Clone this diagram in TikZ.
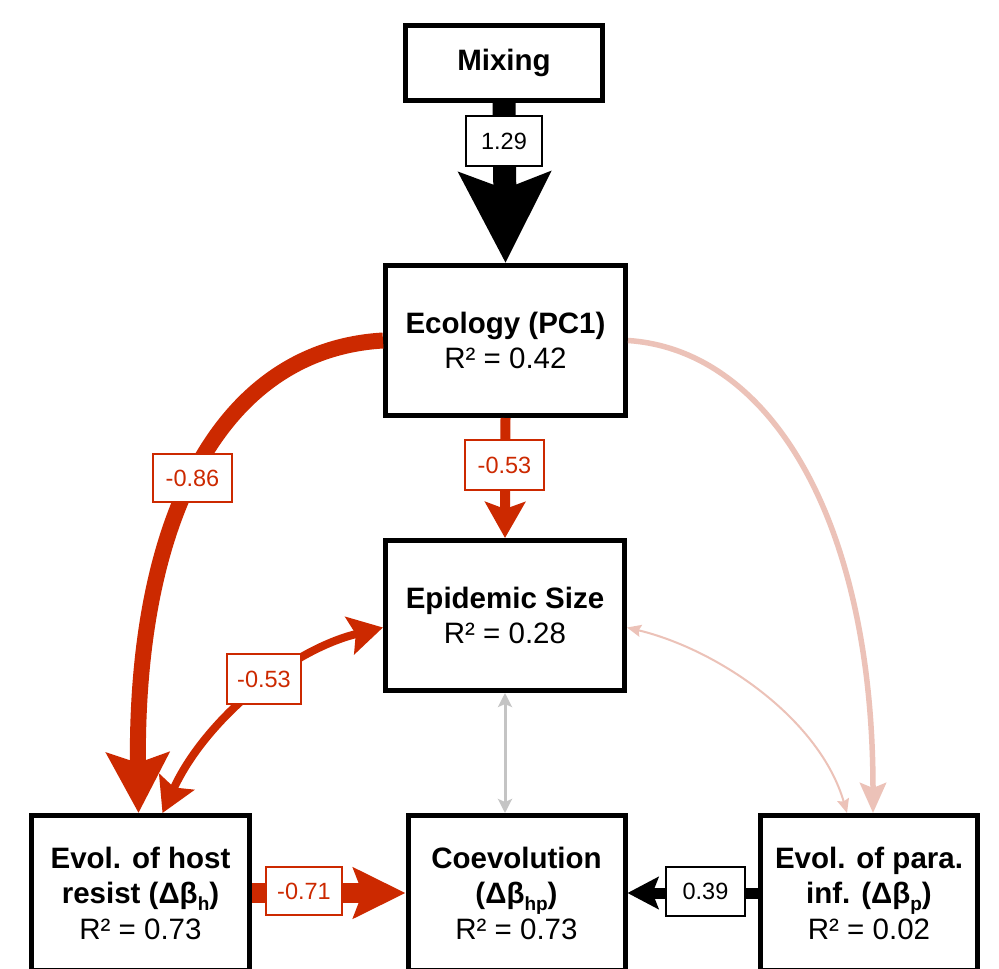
\documentclass[tikz,border=0pt]{standalone}
\usepackage{fontspec}
\setmainfont{Liberation Sans}
\usetikzlibrary{arrows.meta}
\definecolor{myred}{RGB}{204,41,0}
\definecolor{mypink}{RGB}{236,194,184}
\definecolor{mygrey}{RGB}{196,196,196}
\newcommand{\sbx}[1]{\raisebox{-0.22em}{\fontsize{19}{19}\selectfont #1}}
\begin{document}
\begin{tikzpicture}[x=1pt,y=-1pt,
  box/.style={draw=black, line width=5pt, fill=white, align=center, inner sep=0pt,
    font=\fontsize{29.5}{35.5}\selectfont},
  lbl/.style={draw=black, line width=2pt, fill=white, inner sep=0pt,
    minimum width=76pt, minimum height=50pt, font=\fontsize{23.5}{26}\selectfont},
  rlbl/.style={lbl, draw=myred, text=myred},
  redarrow/.style={myred},
]
\useasboundingbox (0,0) rectangle (999,969);
\clip (0,0) rectangle (999,969);
\fill[white] (0,0) rectangle (999,969);

% boxes
\node[box, minimum width=197pt, minimum height=75pt] (mix) at (504,63) {\textbf{Mixing}};
\node[box, minimum width=240pt, minimum height=150pt] (eco) at (505.5,340.5) {\textbf{Ecology (PC1)}\\R² = 0.42};
\node[box, minimum width=239pt, minimum height=150pt] (epi) at (505,615.5) {\textbf{Epidemic Size}\\R² = 0.28};
\node[box, minimum width=218pt, minimum height=155pt] (host) at (140.5,893) {\textbf{Evol. of host}\\\textbf{resist (Δβ\sbx{h})}\\R² = 0.73};
\node[box, minimum width=217pt, minimum height=155pt] (coe) at (516.5,893) {\textbf{Coevolution}\\\textbf{(Δβ\sbx{hp})}\\R² = 0.73};
\node[box, minimum width=217pt, minimum height=155pt] (para) at (869,893) {\textbf{Evol. of para.}\\\textbf{inf. (Δβ\sbx{p})}\\R² = 0.02};

% connectors
\draw[line width=23pt, -{Stealth[length=90pt,width=90pt,inset=16pt]}] (mix.south) -- (eco.north);
\draw[redarrow, line width=10pt, -{Stealth[length=36pt,width=40pt,inset=7pt]}] (eco.south) -- (epi.north);
\draw[redarrow, line width=16pt, -{Stealth[length=60pt,width=62pt,inset=10pt]}]
  (eco.west) .. controls (220,350) and (135,520) .. ([xshift=-2pt]host.north);
\draw[redarrow, line width=8pt, {Stealth[length=34pt,width=38pt,inset=6pt]}-{Stealth[length=34pt,width=38pt,inset=6pt]}]
  ([xshift=22pt]host.north) .. controls (205,720) and (290,650) .. ([yshift=-12pt]epi.west);
\draw[mypink, line width=5.5pt, -{Stealth[length=30pt,width=26pt,inset=5pt]}]
  (eco.east) .. controls (770,350) and (873,520) .. ([xshift=4pt]para.north);
\draw[mypink, line width=2pt, {Stealth[length=14pt,width=12pt,inset=2pt]}-{Stealth[length=14pt,width=12pt,inset=2pt]}]
  ([yshift=-12pt]epi.east) .. controls (720,650) and (820,720) .. ([xshift=-22pt]para.north);
\draw[mygrey, line width=3pt, {Stealth[length=14pt,width=14pt,inset=3pt]}-{Stealth[length=14pt,width=14pt,inset=3pt]}]
  (epi.south) -- (epi.south |- coe.north);
\draw[redarrow, line width=20pt, -{Stealth[length=52pt,width=50pt,inset=9pt]}] (host.east) -- (coe.west);
\draw[line width=11pt, -{Stealth[length=31pt,width=32pt,inset=6pt]}] (para.west) -- (coe.east);

% labels
\node[lbl] (l1) at (504,141) {1.29};
\node[rlbl, minimum width=79pt] (l2) at (504.5,465) {-0.53};
\node[rlbl, minimum width=79pt, minimum height=48pt] (l3) at (192.5,478) {-0.86};
\node[rlbl, minimum width=74pt] (l4) at (264,679) {-0.53};
\node[rlbl, minimum height=48pt] (l5) at (304,891) {-0.71};
\node[lbl, minimum width=79pt, minimum height=49pt] (l6) at (705.5,891.5) {0.39};
\end{tikzpicture}
\end{document}
